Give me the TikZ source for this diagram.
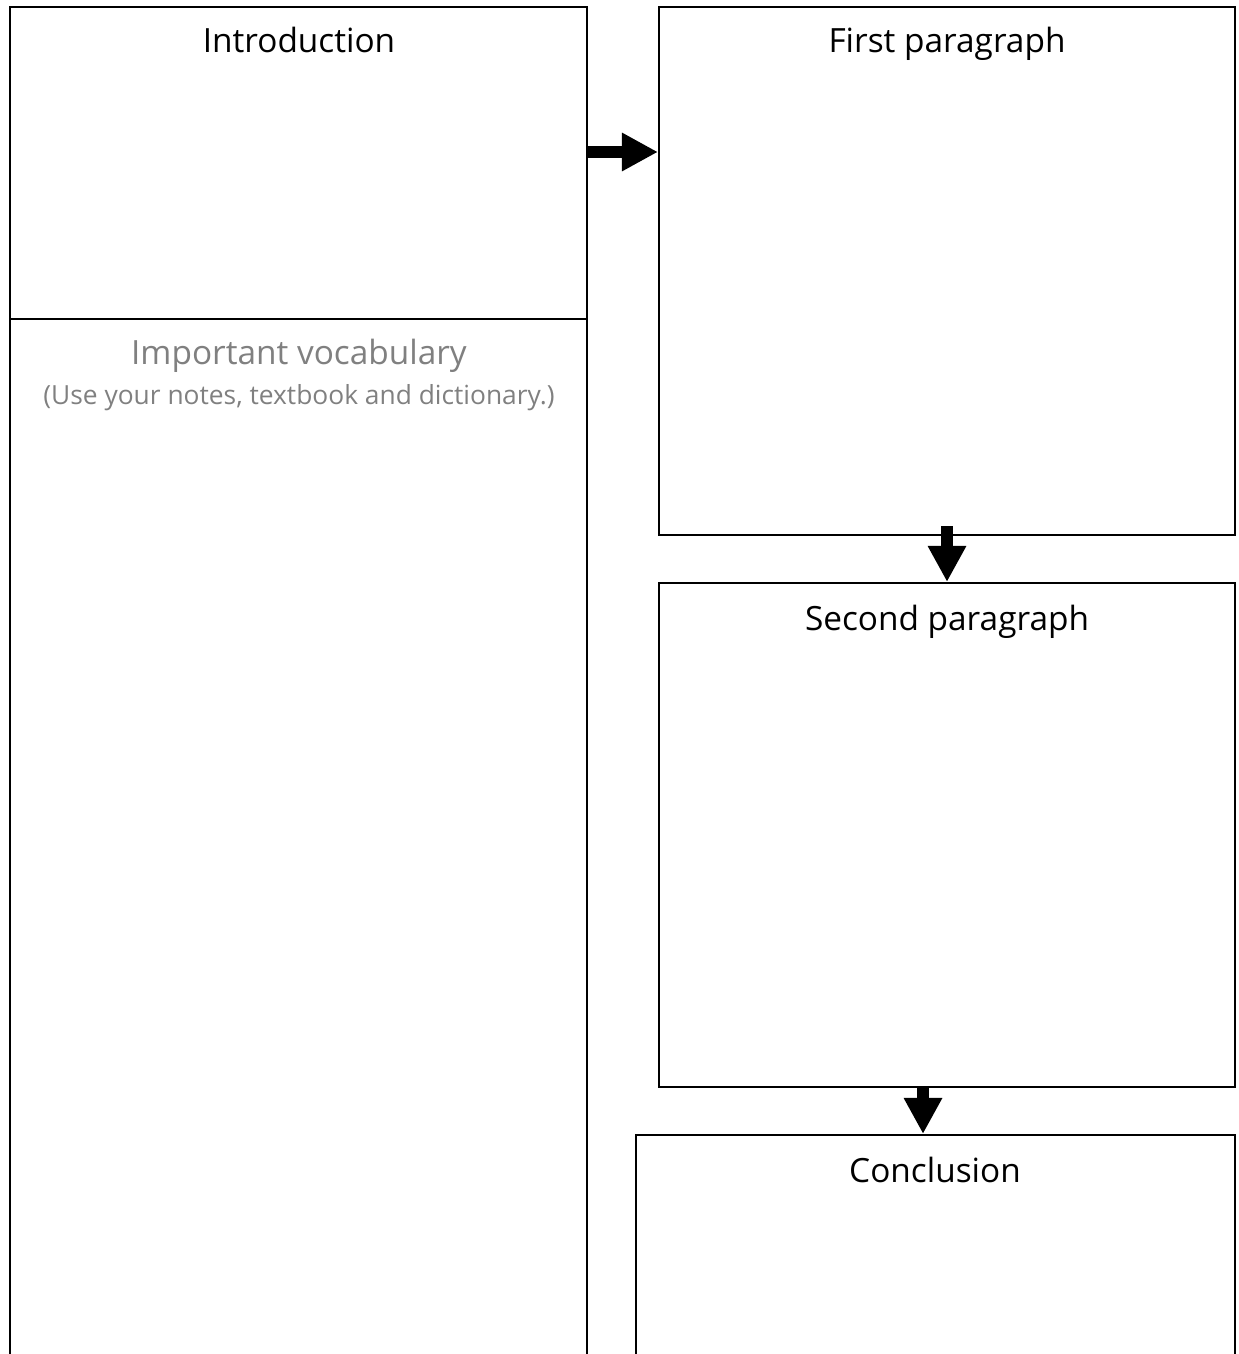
\documentclass[tikz,border=0pt]{standalone}
\usepackage{fontspec}
\setmainfont{Open Sans}
\usetikzlibrary{arrows.meta,fit,calc}
\definecolor{vocabgray}{gray}{0.5}

\begin{document}
\begin{tikzpicture}[
    x=0.02cm, y=-0.02cm,
    box/.style={draw, line width=1.2pt, inner sep=0pt},
    heading/.style={anchor=base, font=\fontsize{19}{22}\selectfont},
    hint/.style={anchor=base, font=\fontsize{15}{18}\selectfont, text=vocabgray},
    bigarrow/.style={line width=6.5pt, -{Triangle[length=20.5pt,width=20.5pt]}}
    ]
        \useasboundingbox (0,0) rectangle (1238,1354);

        % Kaesten
        \node (vocab) [box, fit={(10,319) (587,1400)}] {};
        \node (intro) [box, line width=1.6pt, fill=white, fit={(10,7) (587,319)}] {};
        \node (first) [box, fit={(659,7) (1235,535)}] {};
        \node (second) [box, fit={(659,583) (1235,1087)}] {};
        \node (concl) [box, fit={(636,1135) (1235,1400)}] {};

        % Ueberschriften
        \node (introtxt) [heading] at (299,53) {Introduction};
        \node (firsttxt) [heading] at (947,53) {First paragraph};
        \node (secondtxt) [heading] at (947,630) {Second paragraph};
        \node (concltxt) [heading] at (935,1182) {Conclusion};
        \node (vocabtxt) [heading, text=vocabgray] at (299,365) {Important vocabulary};
        \node (vocabhint) [hint] at (299,404) {(Use your notes, textbook and dictionary.)};

        % Pfeile
        \coordinate (a1) at (587,152);
        \coordinate (a2) at (947,526);
        \coordinate (a3) at (923,1087);
        \draw [bigarrow] (a1) -- (a1 -| first.west);
        \draw [bigarrow] (a2) -- (a2 |- second.north);
        \draw [bigarrow] (a3) -- (a3 |- concl.north);
    \end{tikzpicture}
\end{document}
